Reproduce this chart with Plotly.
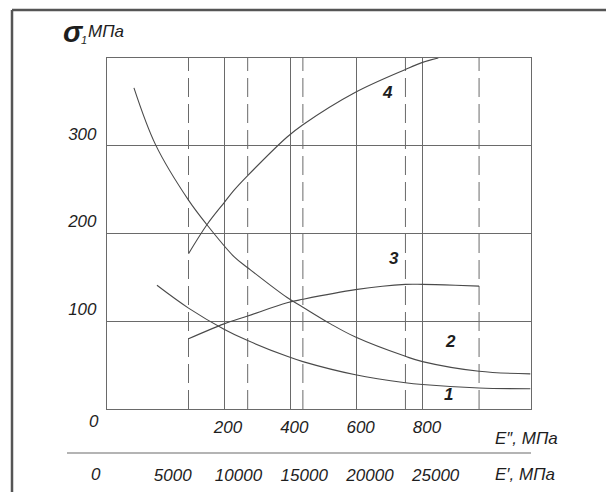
import plotly.graph_objects as go

# ---------------- data ----------------
# abscissa: E' (MPa) ; ordinate: sigma_1 (MPa)
e_curve1 = [3800, 6200, 8900, 10700, 13700, 14900, 18900, 22700, 24000, 28300, 32200]
s_curve1 = [141, 115, 91, 78, 60, 54, 39, 30, 28, 24, 23]

e_curve2 = [2050, 3700, 6200, 7600, 9700, 10700, 13700, 14900, 17000, 18900, 22700, 24000, 28300, 32200]
s_curve2 = [366, 301, 238, 210, 173, 161, 127, 116, 97, 82, 60, 54, 43, 40]

e_curve3 = [6200, 8900, 10700, 13700, 14900, 18900, 22700, 24000, 26500, 28300]
s_curve3 = [80, 97, 106, 121, 125, 136, 142, 142, 141, 140]

e_curve4 = [6200, 7600, 8900, 9700, 10700, 13700, 14900, 18900, 22700, 24000, 25200]
s_curve4 = [177, 210, 235, 250, 266, 310, 324, 361, 387, 395, 400]

curve_names = ["1", "2", "3", "4"]

dashed_e = [6200, 10700, 14900, 22700, 28300]

y_ticks = [100, 200, 300]
y_ticktext = ["100", "200", "300"]
e2_ticks = [200, 400, 600, 800]          # E'' axis
e2_ticktext = ["200", "400", "600", "800"]
e1_ticks = [5000, 10000, 15000, 20000, 25000]  # E' axis
e1_ticktext = ["5000", "10000", "15000", "20000", "25000"]
zero_label = "0"

title_sigma = "<b>σ</b>"
title_index = "1"
title_unit = "МПа"
e2_title = "E″, МПа"
e1_title = "E′, МПа"

# ---------------- layout helpers ----------------
OFF = 8                                # page offset of the figure (body margin)
W, H = 614 - OFF, 492 - OFF
L, R, T, B = 107, 531, 58, 472        # paper area in page pixels
PLOT_BOTTOM = 409


def px(x):
    return (x - L) / (R - L)


def py(y):
    return (B - y) / (B - T)


FONT = "Liberation Sans, Arial, sans-serif"
LINE = "#4a4a4a"
GRID = "#6a6a6a"
TXT = "#1e1e1e"

fig = go.Figure()

for e in dashed_e:
    fig.add_trace(go.Scatter(x=[e, e], y=[0, 400], mode="lines",
                             line=dict(color=GRID, width=1, dash="19px,7px"),
                             showlegend=False, hoverinfo="skip"))

for xs, ys in [(e_curve1, s_curve1), (e_curve2, s_curve2),
               (e_curve3, s_curve3), (e_curve4, s_curve4)]:
    fig.add_trace(go.Scatter(x=xs, y=ys, mode="lines",
                             line=dict(color=LINE, width=1.1, shape="spline", smoothing=1.0),
                             showlegend=False, hoverinfo="skip"))

# trace attached to the E'' axis (no visible marks)
fig.add_trace(go.Scatter(x=[e2_ticks[0]], y=[0], xaxis="x2", yaxis="y", mode="markers",
                         marker=dict(size=0.1, opacity=0), showlegend=False, hoverinfo="skip"))

tickfont = dict(family=FONT, size=17, color=TXT, style="italic")

fig.update_layout(
    width=W, height=H, template="none",
    margin=dict(l=L - OFF, r=W - (R - OFF), t=T - OFF, b=H - (B - OFF), pad=0, autoexpand=False),
    paper_bgcolor="white", plot_bgcolor="white",
    showlegend=False,
    xaxis=dict(range=[0, 32250], anchor="free", position=py(453),
               tickmode="array", tickvals=e1_ticks, ticktext=e1_ticktext,
               showgrid=False, zeroline=False, showline=False, ticks="",
               tickfont=tickfont, ticklabelstandoff=10),
    xaxis2=dict(overlaying="x", anchor="y", side="bottom", range=[-153, 1126],
                tickmode="array", tickvals=e2_ticks, ticktext=e2_ticktext,
                showgrid=True, gridcolor=GRID, gridwidth=1,
                zeroline=False, showline=True, mirror=True, linecolor=GRID, linewidth=1.2,
                ticks="", tickfont=tickfont, ticklabelstandoff=2, ticklabelshift=4),
    yaxis=dict(domain=[py(PLOT_BOTTOM), 1], range=[0, 400], anchor="x",
               tickmode="array", tickvals=y_ticks, ticktext=y_ticktext,
               showgrid=True, gridcolor=GRID, gridwidth=1,
               zeroline=False, showline=True, mirror=True, linecolor=GRID, linewidth=1.2,
               ticks="", tickfont=tickfont, ticklabelstandoff=6, ticklabelshift=-12),
)


def note(x, y, text, font, xanchor="center", yanchor="middle"):
    return dict(x=px(x), y=py(y), xref="paper", yref="paper", text=text,
                xanchor=xanchor, yanchor=yanchor, showarrow=False, font=font)


ann = []
# curve numbers (data coordinates)
label_pos = {"4": (21370, 361), "3": (21830, 171), "2": (26090, 77), "1": (26010, 16)}
for n in curve_names:
    x, y = label_pos[n]
    ann.append(dict(x=x, y=y, xref="x", yref="y", text=n, showarrow=False,
                    xanchor="center", yanchor="middle",
                    font=dict(family=FONT, size=17, color=TXT, style="italic", weight="bold")))
# zero labels
ann.append(note(94, 421, zero_label, tickfont))
ann.append(note(96, 474, zero_label, tickfont))
# axis titles
ann.append(note(493, 438, e2_title, tickfont, xanchor="left"))
ann.append(note(493, 474, e1_title, tickfont, xanchor="left"))
# ordinate title
ann.append(note(61, 32, title_sigma, dict(family=FONT, size=29, color=TXT, style="italic"),
                xanchor="left"))
ann.append(note(79, 40, title_index, dict(family=FONT, size=11, color=TXT, style="italic"),
                xanchor="left"))
ann.append(note(86, 32, title_unit, dict(family=FONT, size=17, color=TXT, style="italic"),
                xanchor="left"))
fig.update_layout(annotations=ann)

# separator line between the two scales and outer frame
fig.add_shape(type="line", xref="paper", yref="paper", x0=px(67), x1=px(531),
              y0=py(453), y1=py(453), line=dict(color=GRID, width=1.2))
fig.add_shape(type="line", xref="paper", yref="paper", x0=px(12), x1=px(620),
              y0=py(10), y1=py(10), line=dict(color="#555555", width=2.5))
fig.add_shape(type="line", xref="paper", yref="paper", x0=px(12), x1=px(12),
              y0=py(10), y1=py(500), line=dict(color="#555555", width=2.5))

fig.write_html("out.html")
